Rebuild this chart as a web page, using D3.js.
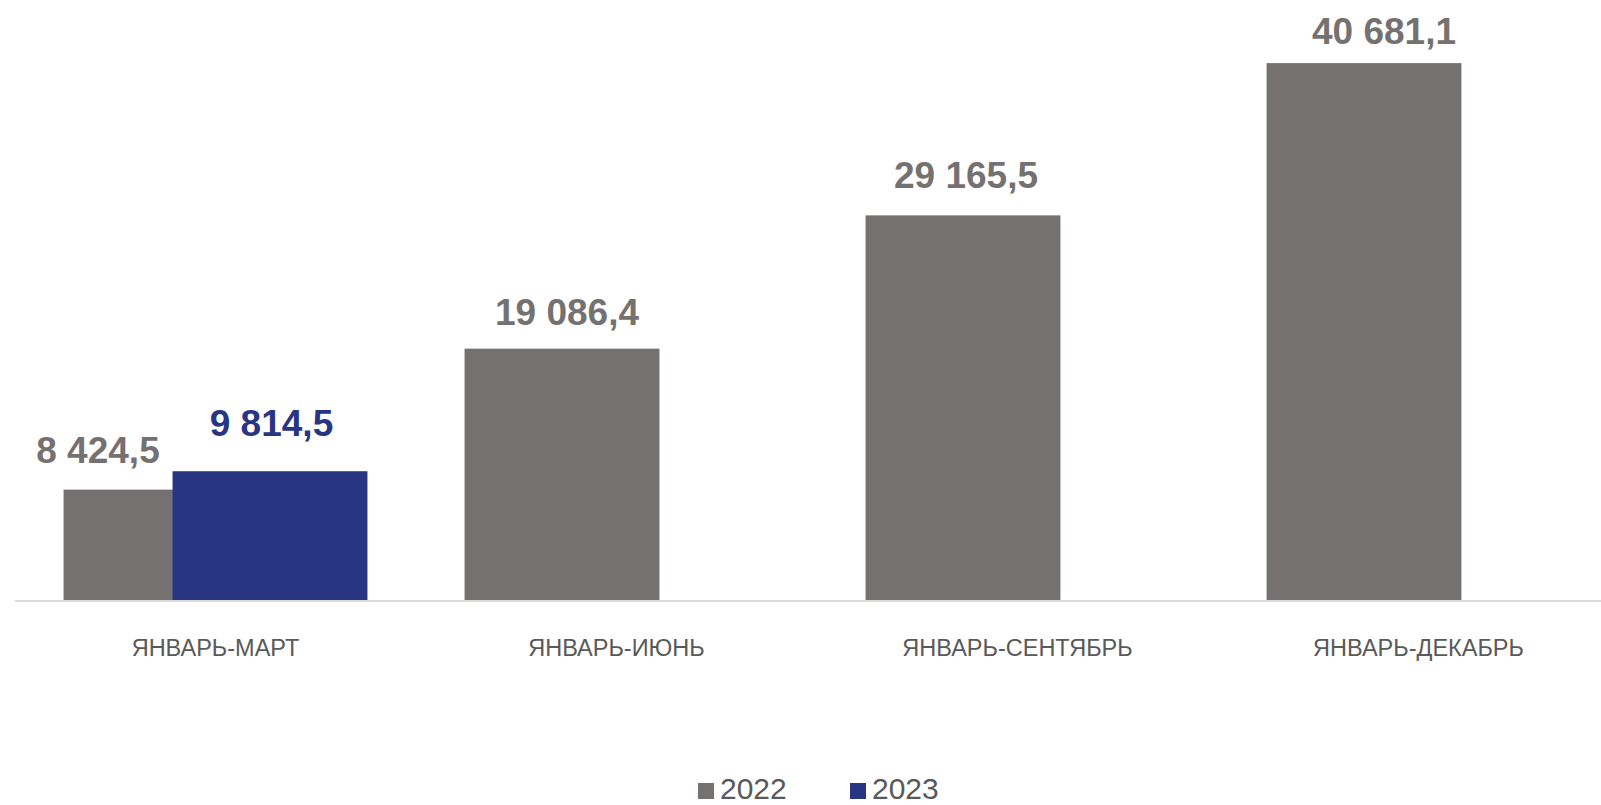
<!DOCTYPE html>
<html>
<head>
<meta charset="utf-8">
<script src="https://cdn.jsdelivr.net/npm/d3@7/dist/d3.min.js"></script>
<style>
  html, body { margin: 0; padding: 0; background: #ffffff; }
  svg { display: block; font-family: "Liberation Sans", Arial, sans-serif; }
</style>
</head>
<body>
<svg id="chart" width="1601" height="805"></svg>
<script>
const categories = ["ЯНВАРЬ-МАРТ", "ЯНВАРЬ-ИЮНЬ", "ЯНВАРЬ-СЕНТЯБРЬ", "ЯНВАРЬ-ДЕКАБРЬ"];
const seriesNames = ["2022", "2023"];
const values2022 = [8424.5, 19086.4, 29165.5, 40681.1];
const values2023 = [9814.5, null, null, null];
const seriesColors = ["#767171", "#283583"];

const W = 1601, H = 805;
const svg = d3.select("#chart");

const x = d3.scaleBand().domain(categories).range([15, 1619]).paddingInner(0).paddingOuter(0);
const xs = d3.scalePoint().domain(seriesNames).range([-54.5, 54.5]);
const barW = x.bandwidth() * 0.486;
const y = d3.scaleLinear().domain([0, 45000]).range([601, 6]);

const seriesData = [values2022, values2023];
const records = [];
seriesNames.forEach((s, si) => {
  categories.forEach((c, ci) => {
    const v = seriesData[si][ci];
    if (v != null) records.push({ series: s, si, category: c, value: v });
  });
});

// bars (2022 first, 2023 drawn over it)
svg.append("g").selectAll("rect").data(records).join("rect")
  .attr("x", d => x(d.category) + x.bandwidth() / 2 + xs(d.series) - barW / 2)
  .attr("y", d => y(d.value))
  .attr("width", barW)
  .attr("height", d => y(0) - y(d.value))
  .attr("fill", d => seriesColors[d.si]);

// axis baseline
const xAxis = d3.axisBottom(x).tickSize(0).tickPadding(0);
const gx = svg.append("g").attr("transform", `translate(0,${y(0)})`).call(xAxis);
gx.select(".domain").attr("d", `M15,0H${W}`).attr("stroke", "#d9d9d9").attr("stroke-width", 2);
gx.selectAll(".tick text")
  .attr("y", 55)
  .attr("dy", 0)
  .attr("fill", "#595959")
  .style("font-size", "23.5px")
  .style("font-family", "'Liberation Sans', Arial, sans-serif");

// value labels
const ru = d3.formatLocale({ decimal: ",", thousands: "\u00a0", grouping: [3], currency: ["", ""] });
const fmt = ru.format(",.1f");
const labelNudge = {
  "2022|ЯНВАРЬ-МАРТ": [-63, 0],
  "2023|ЯНВАРЬ-МАРТ": [1.5, -8],
  "2022|ЯНВАРЬ-ИЮНЬ": [5, 3],
  "2022|ЯНВАРЬ-СЕНТЯБРЬ": [3, 0],
  "2022|ЯНВАРЬ-ДЕКАБРЬ": [20, 8]
};
svg.append("g").selectAll("text").data(records).join("text")
  .attr("x", d => x(d.category) + x.bandwidth() / 2 + xs(d.series) + (labelNudge[d.series + "|" + d.category] || [0, 0])[0])
  .attr("y", d => y(d.value) - 27 + (labelNudge[d.series + "|" + d.category] || [0, 0])[1])
  .attr("text-anchor", "middle")
  .attr("fill", d => seriesColors[d.si])
  .style("font-size", "37px")
  .style("font-weight", "bold")
  .text(d => fmt(d.value));

// legend
const legendX = [698, 850];
const lg = svg.append("g").selectAll("g").data(seriesNames).join("g")
  .attr("transform", (d, i) => `translate(${legendX[i]},0)`);
lg.append("rect").attr("x", 0).attr("y", 783).attr("width", 16).attr("height", 16)
  .attr("fill", (d, i) => seriesColors[i]);
lg.append("text").attr("x", 22).attr("y", 798.5)
  .attr("fill", "#595959")
  .style("font-size", "30px")
  .text(d => d);
</script>
</body>
</html>
